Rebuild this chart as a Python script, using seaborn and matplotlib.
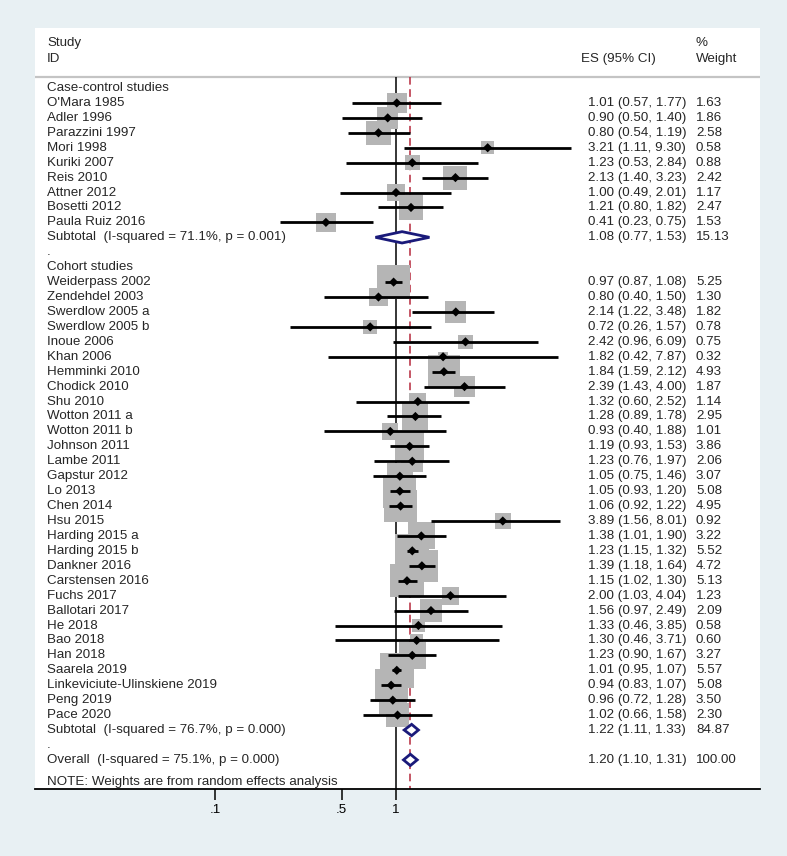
import numpy as np
import pandas as pd
import matplotlib.pyplot as plt
import seaborn as sns
from matplotlib.transforms import blended_transform_factory
from matplotlib.ticker import NullLocator

# case-control studies
case_names = ["O'Mara 1985", "Adler 1996", "Parazzini 1997", "Mori 1998", "Kuriki 2007",
              "Reis 2010", "Attner 2012", "Bosetti 2012", "Paula Ruiz 2016"]
case_es = [1.01, 0.90, 0.80, 3.21, 1.23, 2.13, 1.00, 1.21, 0.41]
case_lo = [0.57, 0.50, 0.54, 1.11, 0.53, 1.40, 0.49, 0.80, 0.23]
case_hi = [1.77, 1.40, 1.19, 9.30, 2.84, 3.23, 2.01, 1.82, 0.75]
case_wt = [1.63, 1.86, 2.58, 0.58, 0.88, 2.42, 1.17, 2.47, 1.53]

# cohort studies
cohort_names = ["Weiderpass 2002", "Zendehdel 2003", "Swerdlow 2005 a", "Swerdlow 2005 b",
                "Inoue 2006", "Khan 2006", "Hemminki 2010", "Chodick 2010", "Shu 2010",
                "Wotton 2011 a", "Wotton 2011 b", "Johnson 2011", "Lambe 2011", "Gapstur 2012",
                "Lo 2013", "Chen 2014", "Hsu 2015", "Harding 2015 a", "Harding 2015 b",
                "Dankner 2016", "Carstensen 2016", "Fuchs 2017", "Ballotari 2017", "He 2018",
                "Bao 2018", "Han 2018", "Saarela 2019", "Linkeviciute-Ulinskiene 2019",
                "Peng 2019", "Pace 2020"]
cohort_es = [0.97, 0.80, 2.14, 0.72, 2.42, 1.82, 1.84, 2.39, 1.32, 1.28, 0.93, 1.19, 1.23, 1.05,
             1.05, 1.06, 3.89, 1.38, 1.23, 1.39, 1.15, 2.00, 1.56, 1.33, 1.30, 1.23, 1.01, 0.94,
             0.96, 1.02]
cohort_lo = [0.87, 0.40, 1.22, 0.26, 0.96, 0.42, 1.59, 1.43, 0.60, 0.89, 0.40, 0.93, 0.76, 0.75,
             0.93, 0.92, 1.56, 1.01, 1.15, 1.18, 1.02, 1.03, 0.97, 0.46, 0.46, 0.90, 0.95, 0.83,
             0.72, 0.66]
cohort_hi = [1.08, 1.50, 3.48, 1.57, 6.09, 7.87, 2.12, 4.00, 2.52, 1.78, 1.88, 1.53, 1.97, 1.46,
             1.20, 1.22, 8.01, 1.90, 1.32, 1.64, 1.30, 4.04, 2.49, 3.85, 3.71, 1.67, 1.07, 1.07,
             1.28, 1.58]
cohort_wt = [5.25, 1.30, 1.82, 0.78, 0.75, 0.32, 4.93, 1.87, 1.14, 2.95, 1.01, 3.86, 2.06, 3.07,
             5.08, 4.95, 0.92, 3.22, 5.52, 4.72, 5.13, 1.23, 2.09, 0.58, 0.60, 3.27, 5.57, 5.08,
             3.50, 2.30]

# pooled estimates
pooled_labels = ["Subtotal  (I-squared = 71.1%, p = 0.001)",
                 "Subtotal  (I-squared = 76.7%, p = 0.000)",
                 "Overall  (I-squared = 75.1%, p = 0.000)"]
pooled_es = [1.08, 1.22, 1.20]
pooled_lo = [0.77, 1.11, 1.10]
pooled_hi = [1.53, 1.33, 1.31]
pooled_wt = [15.13, 84.87, 100.00]

case_rows = list(range(1, 10))
cohort_rows = list(range(13, 43))
pooled_rows = [10, 43, 45]

studies = pd.DataFrame({
    'study': case_names + cohort_names,
    'es': case_es + cohort_es,
    'lo': case_lo + cohort_lo,
    'hi': case_hi + cohort_hi,
    'wt': case_wt + cohort_wt,
    'row': case_rows + cohort_rows,
})
# box side in points grows with weight
studies['box'] = (16.2 * studies['wt'] ** 0.44 * 0.72) ** 2

sns.set_style("white")
plt.rcParams['font.family'] = ['Liberation Sans', 'DejaVu Sans']
fs = 9.6

fig = plt.figure(figsize=(7.87, 8.56), dpi=100, facecolor='#e8f0f3')
ax = fig.add_axes([35 / 787, 1 - 789 / 856, 725 / 787, (789 - 28) / 856])
ax.set_facecolor('white')
ax.set_xscale('log')
ax.set_xlim(10 ** ((35 - 396) / 181), 10 ** ((760 - 396) / 181))
y_top, y_bot = -4.02, 46.95
ax.set_ylim(y_bot, y_top)

head_y = -0.74
ax.axhline(head_y, color='#c4c4c4', lw=1.6, zorder=1)
ax.vlines(1, head_y, y_bot, color='black', lw=1.1, zorder=1)
ax.vlines(pooled_es[2], head_y, y_bot, colors='#b5283c', linestyles=(0, (5, 3)), lw=1.1, zorder=1)

sns.scatterplot(data=studies, x='es', y='row', s=studies['box'], marker='s',
                color='#b5b5b5', edgecolor='none', linewidth=0, legend=False, ax=ax, zorder=2)
ax.hlines(studies['row'], studies['lo'], studies['hi'], color='black', lw=2.0, zorder=3)
sns.scatterplot(data=studies, x='es', y='row', s=22, marker='D', color='black',
                edgecolor='none', linewidth=0, legend=False, ax=ax, zorder=4)

for r, e, lo, hi in zip(pooled_rows, pooled_es, pooled_lo, pooled_hi):
    ax.fill([lo, e, hi, e, lo], [r, r - 0.38, r, r + 0.38, r], facecolor='white',
            edgecolor='#1a1a7a', lw=2.0, zorder=5)

tr = blended_transform_factory(ax.transAxes, ax.transData)
x_name, x_es, x_wt = 0.0166, 0.7628, 0.9117

ax.text(x_name, -3.0, "Study", transform=tr, fontsize=fs, va='center')
ax.text(x_name, -1.94, "ID", transform=tr, fontsize=fs, va='center')
ax.text(0.7531, -1.94, "ES (95% CI)", transform=tr, fontsize=fs, va='center')
ax.text(x_wt, -3.0, "%", transform=tr, fontsize=fs, va='center')
ax.text(x_wt, -1.94, "Weight", transform=tr, fontsize=fs, va='center')

ax.text(x_name, 0, "Case-control studies", transform=tr, fontsize=fs, va='center')
ax.text(x_name, 12, "Cohort studies", transform=tr, fontsize=fs, va='center')
ax.text(x_name, 11, ".", transform=tr, fontsize=fs, va='center')
ax.text(x_name, 44, ".", transform=tr, fontsize=fs, va='center')

for _, d in studies.iterrows():
    ax.text(x_name, d['row'], d['study'], transform=tr, fontsize=fs, va='center')
    ax.text(x_es, d['row'], f"{d['es']:.2f} ({d['lo']:.2f}, {d['hi']:.2f})",
            transform=tr, fontsize=fs, va='center')
    ax.text(x_wt, d['row'], f"{d['wt']:.2f}", transform=tr, fontsize=fs, va='center')

for lab, r, e, lo, hi, w in zip(pooled_labels, pooled_rows, pooled_es, pooled_lo, pooled_hi, pooled_wt):
    ax.text(x_name, r, lab, transform=tr, fontsize=fs, va='center')
    ax.text(x_es, r, f"{e:.2f} ({lo:.2f}, {hi:.2f})", transform=tr, fontsize=fs, va='center')
    ax.text(x_wt, r, f"{w:.2f}", transform=tr, fontsize=fs, va='center')

ax.text(x_name, 46.45, "NOTE: Weights are from random effects analysis", transform=tr,
        fontsize=fs, va='center')

for side in ['top', 'left', 'right']:
    ax.spines[side].set_visible(False)
ax.spines['bottom'].set_color('black')
ax.spines['bottom'].set_linewidth(1.3)
ax.set_xticks([0.1, 0.5, 1])
ax.set_xticklabels(['.1', '.5', '1'])
ax.xaxis.set_minor_locator(NullLocator())
ax.set_yticks([])
ax.tick_params(axis='x', length=8, width=1.1, direction='out', pad=3, labelsize=fs,
               colors='black', bottom=True)
ax.set_xlabel('')
ax.set_ylabel('')

fig.savefig('out.png', dpi=100, facecolor=fig.get_facecolor())
